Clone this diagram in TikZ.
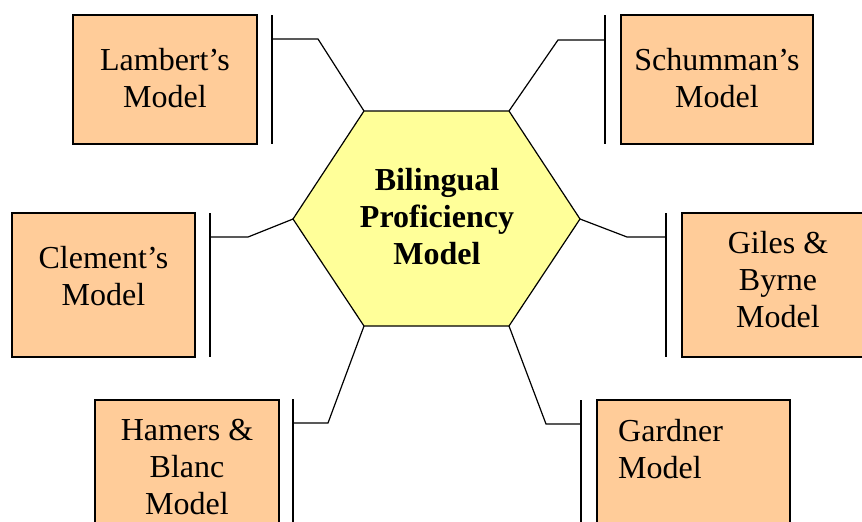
\documentclass[tikz,border=0pt]{standalone}
\usepackage{fontspec}
\setmainfont{Liberation Serif}
\definecolor{boxpeach}{HTML}{FFCC99}
\definecolor{hexyellow}{HTML}{FFFF99}
\begin{document}
\begin{tikzpicture}[x=1pt,y=-1pt,
  model/.style={draw=black, line width=1.2pt, fill=boxpeach, inner sep=0pt},
  modeltext/.style={align=center, inner sep=0pt, font=\fontsize{32}{37}\selectfont},
  link/.style={draw=black, line width=1.2pt, line join=miter},
  bar/.style={draw=black, line width=1.6pt},
  hub/.style={align=center, font=\fontsize{32}{37}\selectfont\bfseries}]
\clip (0,0) rectangle (862,522);

% central hexagon
\coordinate (hubNW) at (364,111);
\coordinate (hubNE) at (509,111);
\coordinate (hubE)  at (580,219);
\coordinate (hubSE) at (509,326);
\coordinate (hubSW) at (364,326);
\coordinate (hubW)  at (293,219);
\filldraw[fill=hexyellow, draw=black, line width=1.2pt, line join=miter]
  (hubNW) -- (hubNE) -- (hubE) -- (hubSE) -- (hubSW) -- (hubW) -- cycle;
\node[hub] (core) at (437,217) {Bilingual\\Proficiency\\Model};

% surrounding model boxes
\node[model, minimum width=184pt, minimum height=129pt] (lam) at (165,79.5) {};
\node[model, minimum width=192pt, minimum height=129pt] (sch) at (717,79.5) {};
\node[model, minimum width=183pt, minimum height=144pt] (cle) at (103.5,285) {};
\node[model, minimum width=192pt, minimum height=144pt] (gil) at (778,285) {};
\node[model, minimum width=184pt, minimum height=144pt] (ham) at (187,472) {};
\node[model, minimum width=193pt, minimum height=144pt] (gar) at (693.5,472) {};

% their labels
\node[modeltext, yshift=1pt] (lamText) at (lam) {Lambert’s\\Model};
\node[modeltext, yshift=1pt] (schText) at (sch) {Schumman’s\\Model};
\node[modeltext, yshift=9pt] (cleText) at (cle) {Clement’s\\Model};
\node[modeltext, yshift=5pt] (gilText) at (gil) {Giles \&\\Byrne\\Model};
\node[modeltext, yshift=5pt] (hamText) at (ham) {Hamers \&\\Blanc\\Model};
\node[modeltext, align=left, anchor=north west] (garText) at (618,419) {Gardner\\Model};

% brackets beside each model
\coordinate (lamBarT) at (272,15);  \coordinate (lamBarB) at (272,144);
\coordinate (schBarT) at (605,15);  \coordinate (schBarB) at (605,144);
\coordinate (cleBarT) at (210,213); \coordinate (cleBarB) at (210,357);
\coordinate (gilBarT) at (666,213); \coordinate (gilBarB) at (666,357);
\coordinate (hamBarT) at (293,399); \coordinate (hamBarB) at (293,544);
\coordinate (garBarT) at (581,400); \coordinate (garBarB) at (581,544);
\foreach \m in {lam,sch,cle,gil,ham,gar}
  \draw[bar] (\m BarT) -- (\m BarB);

% elbow connectors from the hexagon corners
\coordinate (lamBend) at (318,39);  \coordinate (lamJoin) at (272,39);
\coordinate (schBend) at (558,40);  \coordinate (schJoin) at (605,40);
\coordinate (cleBend) at (248,237); \coordinate (cleJoin) at (210,237);
\coordinate (gilBend) at (627,237); \coordinate (gilJoin) at (666,237);
\coordinate (hamBend) at (328,423); \coordinate (hamJoin) at (293,423);
\coordinate (garBend) at (546,424); \coordinate (garJoin) at (581,424);
\draw[link] (hubNW) -- (lamBend) -- (lamJoin);
\draw[link] (hubNE) -- (schBend) -- (schJoin);
\draw[link] (hubW)  -- (cleBend) -- (cleJoin);
\draw[link] (hubE)  -- (gilBend) -- (gilJoin);
\draw[link] (hubSW) -- (hamBend) -- (hamJoin);
\draw[link] (hubSE) -- (garBend) -- (garJoin);
\end{tikzpicture}
\end{document}
